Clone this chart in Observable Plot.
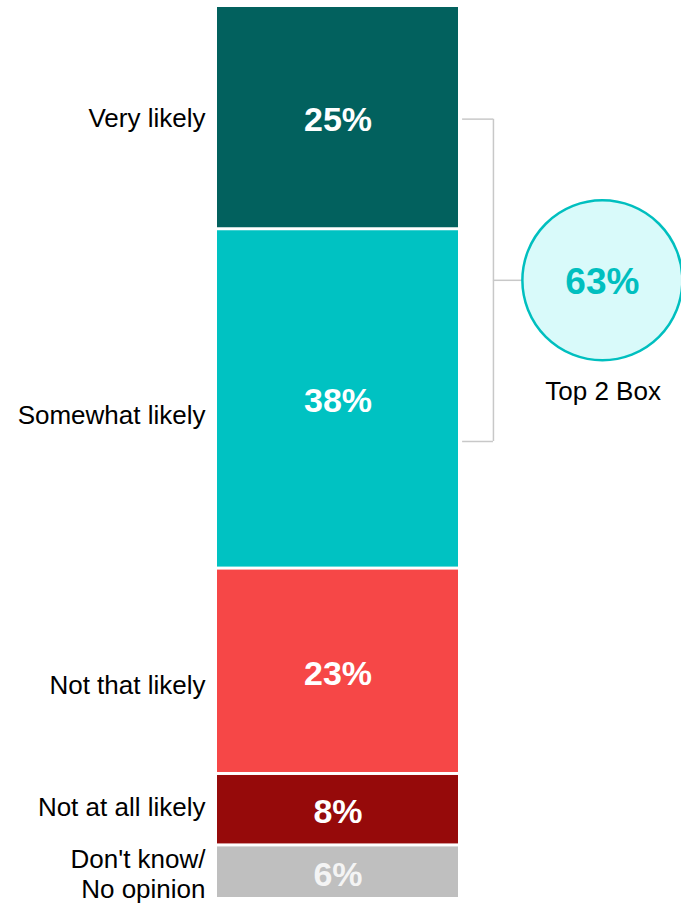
<!DOCTYPE html>
<html>
<head>
<meta charset="utf-8">
<script src="https://cdn.jsdelivr.net/npm/d3@7"></script>
<script src="https://cdn.jsdelivr.net/npm/@observablehq/plot@0.6"></script>
<style>
  html, body { margin: 0; padding: 0; background: #fff; }
  #chart svg { display: block; }
</style>
</head>
<body>
<div id="chart"></div>
<script>
// ---- Data ----
const categories = ["Very likely", "Somewhat likely", "Not that likely", "Not at all likely", "Don't know/\nNo opinion"];
const values = [25, 38, 23, 8, 6];
const segmentColors = ["#02615E", "#00C2C2", "#F64747", "#960A0A", "#BFBFBF"];
const valueTextColors = ["#FFFFFF", "#FFFFFF", "#FFFFFF", "#FFFFFF", "#F4F4F4"];
const topBoxValue = 63;
const topBoxLabel = "Top 2 Box";

// ---- Build stacked rows ----
const ends = d3.cumsum(values);
const rows = categories.map((c, i) => ({
  category: c,
  value: values[i],
  y1: ends[i] - values[i],
  y2: ends[i],
  mid: ends[i] - values[i] / 2,
  color: segmentColors[i],
  textColor: valueTextColors[i]
}));

// layout tweaks (not data): vertical nudges for category labels, in px
const labelNudge = [-2, 14, 12, -5, 0];

const font = "'Liberation Sans', Arial, Helvetica, sans-serif";
const bracketTop = rows[0].mid;
const bracketBottom = 48.6;
const bracketMid = (bracketTop + bracketBottom) / 2;

const chart = Plot.plot({
  width: 681,
  height: 903,
  margin: 0,
  style: { fontFamily: font, background: "#fff" },
  x: { type: "linear", domain: [0, 1], range: [217, 458], axis: null },
  y: { domain: [0, 100], range: [7, 900], axis: null },
  color: { type: "identity" },
  marks: [
    Plot.rectY(rows, { x1: 0, x2: 1, y1: "y1", y2: "y2", fill: "color", insetBottom: 3 }),
    Plot.text(rows, {
      x: 0.5, y: "mid", dy: 1, text: d => d.value + "%", fill: "textColor",
      fontSize: 34, fontWeight: "bold", fontFamily: font
    }),
    Plot.text(rows.map((d, i) => ({ ...d, nudge: labelNudge[i] })), {
      x: 0, y: d => d.mid + d.nudge / 8.93, dx: -12, text: "category", textAnchor: "end",
      fill: "#000", fontSize: 26, lineHeight: 1.15, fontFamily: font
    }),
    // bracket
    Plot.ruleY([bracketTop, bracketBottom], { x1: 1.017, x2: 1.145, stroke: "#C8C8C8", strokeWidth: 1.5 }),
    Plot.ruleX([1.145], { y1: bracketTop, y2: bracketBottom, stroke: "#C8C8C8", strokeWidth: 1.5 }),
    Plot.ruleY([bracketMid], { x1: 1.145, x2: 1.268, stroke: "#C8C8C8", strokeWidth: 1.5 }),
    // circle
    Plot.dot([{ x: 1.597, y: bracketMid }], { x: "x", y: "y", r: 80, fill: "#D9FAFA", stroke: "#00BFBF", strokeWidth: 2.5 }),
    Plot.text([{ x: 1.597, y: bracketMid }], {
      x: "x", y: "y", dy: 2, text: () => topBoxValue + "%", fill: "#00BFBF",
      fontSize: 37, fontWeight: "bold", fontFamily: font
    }),
    Plot.text([{ x: 1.6, y: 43.1 }], {
      x: "x", y: "y", dy: -1, text: () => topBoxLabel, fill: "#000", fontSize: 26, fontFamily: font
    })
  ]
});
document.getElementById("chart").appendChild(chart);
</script>
</body>
</html>
